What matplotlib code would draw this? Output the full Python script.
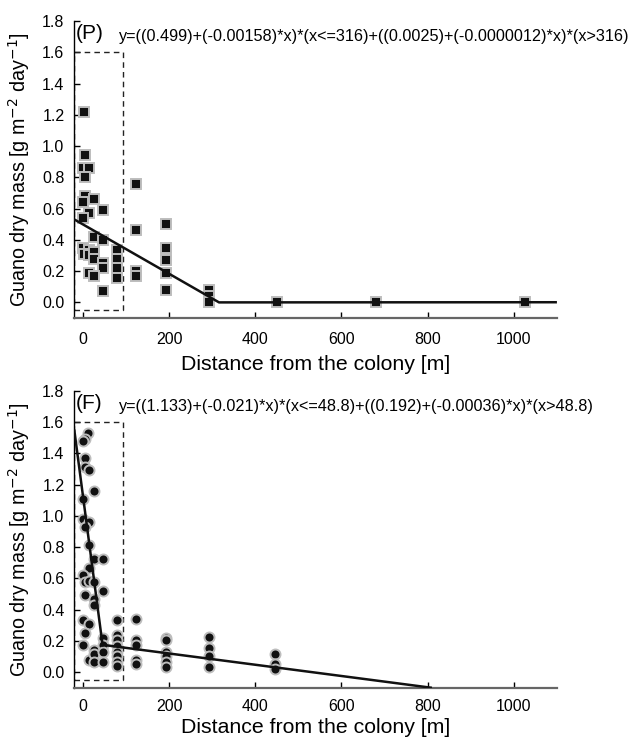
import matplotlib
matplotlib.use('Agg')
import matplotlib.pyplot as plt
from matplotlib.patches import Rectangle

plt.rcParams['font.family'] = ['Liberation Sans', 'DejaVu Sans']

# panel P (squares)
p_x = [2, 4, 0, 14, 4, 124, 4, 27, 0, 47, 14, 0, 192, 124, 27, 47, 192, 0, 14, 79,
       3, 14, 27, 27, 79, 192, 47, 47, 79, 124, 124, 14, 192, 27, 79, 47, 192,
       293, 293, 293, 450, 680, 1025]
p_y = [1.22, 0.94, 0.86, 0.86, 0.80, 0.76, 0.68, 0.66, 0.64, 0.59, 0.57, 0.54, 0.50, 0.46,
       0.42, 0.40, 0.35, 0.35, 0.335, 0.335, 0.31, 0.30, 0.32, 0.28, 0.28, 0.27, 0.25,
       0.22, 0.22, 0.20, 0.17, 0.19, 0.19, 0.17, 0.155, 0.07, 0.08, 0.08, 0.04, 0.0,
       0.0, 0.0, 0.0]
p_fit_x = [-20, 316, 1100]
p_fit_y = [0.531, 0.0, 0.001]
p_eq = 'y=((0.499)+(-0.00158)*x)*(x<=316)+((0.0025)+(-0.0000012)*x)*(x>316)'

# panel F (circles)
f_x = [13, 4, 1, 4, 4, 14, 27, 1, 1, 14, 4, 14, 27, 47, 14, 1, 4, 14, 27, 4, 47, 27, 27,
       1, 14, 79, 124, 4, 1, 14, 27, 27, 27, 47, 47, 47, 47,
       79, 79, 79, 79, 79, 79, 79, 124, 124, 124, 124,
       192, 192, 192, 192, 192, 192, 293, 293, 293, 293, 446, 446, 446]
f_y = [1.533, 1.495, 1.478, 1.371, 1.314, 1.293, 1.159, 1.106, 0.979, 0.96, 0.926, 0.815,
       0.726, 0.726, 0.665, 0.62, 0.578, 0.585, 0.58, 0.495, 0.522, 0.465, 0.43,
       0.331, 0.31, 0.331, 0.34, 0.25, 0.172, 0.076, 0.14, 0.115, 0.068,
       0.217, 0.174, 0.132, 0.068,
       0.238, 0.204, 0.168, 0.132, 0.104, 0.068, 0.04, 0.204, 0.174, 0.076, 0.055,
       0.221, 0.204, 0.132, 0.104, 0.068, 0.033, 0.225, 0.153, 0.104, 0.034,
       0.119, 0.051, 0.019]
f_fit_x = [-20, 46, 49, 810]
f_fit_y = [1.553, 0.17, 0.174, -0.1]
f_eq = 'y=((1.133)+(-0.021)*x)*(x<=48.8)+((0.192)+(-0.00036)*x)*(x>48.8)'

fig = plt.figure(figsize=(6.3, 7.46), dpi=100)

panels = [
    (0.5737, 'P', 's', 6.8, 10, 6, p_x, p_y, p_fit_x, p_fit_y, p_eq),
    (0.0780, 'F', 'o', 7.2, 8, 3, f_x, f_y, f_fit_x, f_fit_y, f_eq),
]

for bottom, tag, mk, ms, xpad, lpad, xs, ys, fx, fy, eq in panels:
    ax = fig.add_axes([0.1178, bottom, 0.7662, 0.3981])
    ax.plot(xs, ys, linestyle='none', marker=mk, markersize=ms,
            markerfacecolor='#111111', markeredgecolor='#bdbdbd', markeredgewidth=1.4,
            zorder=3)
    ax.plot(fx, fy, color='#111111', lw=1.8, zorder=4, solid_capstyle='butt')
    ax.add_patch(Rectangle((-20, -0.05), 113, 1.65, fill=False, ls=(0, (4, 3)),
                           lw=1, edgecolor='#222222', zorder=2))
    ax.set_xlim(-20, 1100)
    ax.set_ylim(-0.1, 1.8)
    ax.set_xticks([0, 200, 400, 600, 800, 1000])
    ax.set_yticks([0.0, 0.2, 0.4, 0.6, 0.8, 1.0, 1.2, 1.4, 1.6, 1.8])
    ax.set_yticklabels(['%.1f' % v for v in ax.get_yticks()])
    ax.tick_params(direction='in', length=4, width=1, labelsize=11.5, pad=7)
    ax.tick_params(axis='x', pad=xpad)
    for s in ['top', 'right']:
        ax.spines[s].set_visible(False)
    ax.spines['left'].set_linewidth(1)
    ax.spines['bottom'].set_linewidth(1.6)
    ax.spines['bottom'].set_color('#666666')
    ax.set_xlabel('Distance from the colony [m]', fontsize=15.3, labelpad=lpad)
    ax.set_ylabel('Guano dry mass [g m$^{-2}$ day$^{-1}$]', fontsize=14.2, labelpad=7)
    ax.text(-17, 1.72, '(' + tag + ')', fontsize=15, va='center', ha='left')
    ax.text(84, 1.70, eq, fontsize=11.7, va='center', ha='left')

fig.savefig('out.png', dpi=100)
